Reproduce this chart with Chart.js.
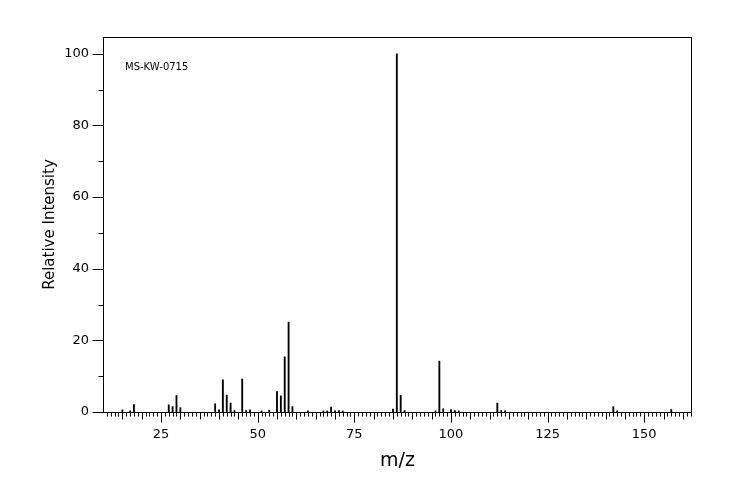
<!DOCTYPE html>
<html>
<head>
<meta charset="utf-8">
<script src="https://cdn.jsdelivr.net/npm/chart.js@4"></script>
<style>
  body { margin: 0; background: #fff; }
  #wrap { width: 744px; height: 500px; }
</style>
</head>
<body>
<div id="wrap"><canvas id="myChart" width="744" height="500"></canvas></div>
<script>
// picos del espectro (m/z, intensidad relativa)
const mzValues = [15, 17, 18, 27, 28, 29, 30, 39, 40, 41, 42, 43, 44, 46, 47, 48, 51, 53,
                  55, 56, 57, 58, 59, 63, 67, 68, 69, 70, 71, 72, 85, 86, 87, 88, 96, 97,
                  98, 100, 101, 102, 112, 113, 114, 142, 143, 157];
const intensities = [0.6, 0.3, 2.1, 2.0, 1.5, 4.6, 1.2, 2.3, 0.6, 9.0, 4.7, 2.5, 0.4, 9.2, 0.4, 0.6, 0.3, 0.5,
                     5.7, 4.5, 15.4, 25.1, 1.5, 0.3, 0.3, 0.3, 1.4, 0.3, 0.4, 0.3, 0.8, 100, 4.7, 0.4, 0.3, 14.2,
                     0.9, 0.7, 0.4, 0.3, 2.5, 0.4, 0.3, 1.5, 0.3, 0.7];
const xTickLabels = [25, 50, 75, 100, 125, 150];
const yTickLabels = [0, 20, 40, 60, 80, 100];
const sampleId = 'MS-KW-0715';

const fontFam = '"DejaVu Sans", sans-serif';

// marco, marcas de los ejes y rotulo de la muestra
const framePlugin = {
    id: 'frame',
    afterDraw(chart) {
        const ctx = chart.ctx;
        const a = chart.chartArea;
        const xs = chart.scales.x;
        const ys = chart.scales.y;
        ctx.save();
        ctx.strokeStyle = '#000';
        ctx.lineWidth = 1;
        const L = Math.round(a.left) - 0.5, R = Math.round(a.right) + 0.5;
        const T = Math.round(a.top) + 0.5, B = Math.round(a.bottom) + 0.5;
        ctx.strokeRect(L, T, R - L, B - T);

        ctx.beginPath();
        for (let v = Math.ceil(xs.min); v <= Math.floor(xs.max); v++) {
            const len = v % 25 === 0 ? 10 : (v % 5 === 0 ? 7 : 4);
            const px = Math.round(xs.getPixelForValue(v)) + 0.5;
            ctx.moveTo(px, B);
            ctx.lineTo(px, B + len);
        }
        for (let v = 0; v <= 100; v += 10) {
            const len = v % 20 === 0 ? 11 : 5;
            const py = Math.round(ys.getPixelForValue(v)) + 0.5;
            ctx.moveTo(L, py);
            ctx.lineTo(L - len, py);
        }
        ctx.stroke();

        ctx.fillStyle = '#000';
        ctx.font = '10px ' + fontFam;
        ctx.textBaseline = 'middle';
        ctx.fillText(sampleId, 125, 67);
        ctx.restore();
    }
};

const ctx = document.getElementById('myChart');
const myChart = new Chart(ctx, {
    type: 'bar',
    data: {
        datasets: [{
            label: 'Relative Intensity',
            data: mzValues.map((m, i) => ({ x: m, y: intensities[i] })),
            backgroundColor: '#000',
            borderWidth: 0,
            barThickness: 1.2,
            grouped: false
        }]
    },
    options: {
        responsive: false,
        animation: false,
        devicePixelRatio: 1,
        layout: { padding: { top: 37, right: 53, bottom: 0, left: 0 } },
        plugins: {
            legend: { display: false },
            tooltip: { enabled: false }
        },
        scales: {
            x: {
                type: 'linear',
                offset: false,
                min: 10.25,
                max: 162.1,
                grid: { display: false, offset: false, tickLength: 10 },
                border: { display: false },
                ticks: {
                    stepSize: 25,
                    includeBounds: false,
                    autoSkip: false,
                    maxRotation: 0,
                    padding: 5,
                    color: '#000',
                    font: { family: fontFam, size: 13 },
                    callback: v => xTickLabels.includes(v) ? String(v) : ''
                },
                title: {
                    display: true,
                    text: 'm/z',
                    color: '#000',
                    font: { family: fontFam, size: 19 },
                    padding: { top: 0, bottom: 28 }
                },
                afterFit: scale => { scale.height = 88; }
            },
            y: {
                min: 0,
                max: 104.7,
                grid: { display: false, tickLength: 11 },
                border: { display: false },
                ticks: {
                    stepSize: 20,
                    includeBounds: false,
                    padding: 4,
                    color: '#000',
                    font: { family: fontFam, size: 13 },
                    callback: v => yTickLabels.includes(v) ? String(v) : ''
                },
                title: {
                    display: true,
                    text: 'Relative Intensity',
                    color: '#000',
                    font: { family: fontFam, size: 15 },
                    padding: { top: 41, bottom: 0 }
                },
                afterFit: scale => { scale.width = 104; }
            }
        }
    },
    plugins: [framePlugin]
});
</script>
</body>
</html>
